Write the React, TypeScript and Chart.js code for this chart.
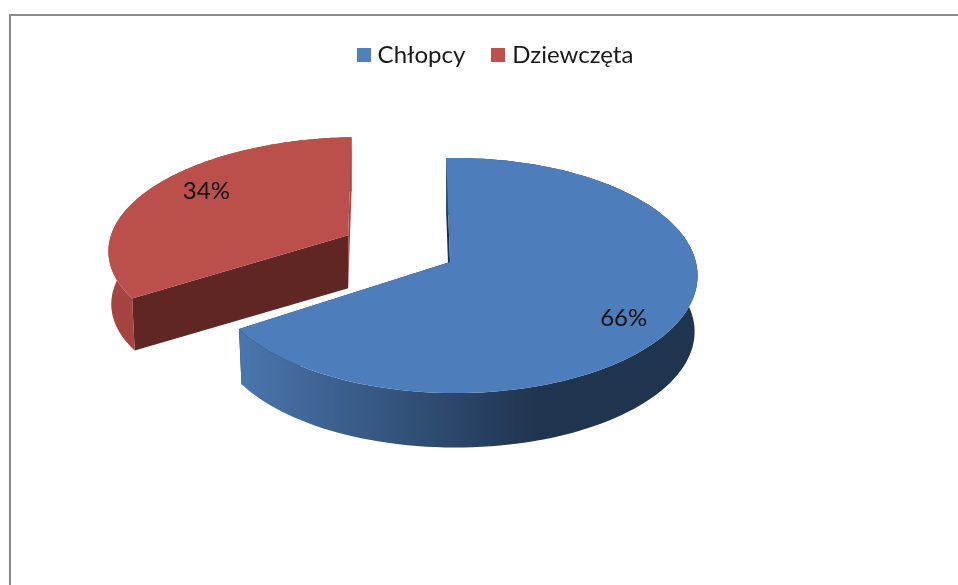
import React, { useEffect, useRef } from "react";
import { Chart, PieController, registerables } from "chart.js";

Chart.register(...registerables);

const categories = ["Chłopcy", "Dziewczęta"];
const shares = [66, 34];
const shareLabels = ["66%", "34%"];
const faceColors = ["#4d7ebb", "#bb4f4b"];
const legendColors = ["#4f81bd", "#c0504d"];
const outerWallStops = [
  ["#4a76ae", "#1f344f"],
  ["#a54440", "#a54440"],
];
const frontWallColors = ["#17324f", "#5f2624"];
const sideWallColors = ["#17324f", "#a54440"];
const sliceOffsets = [0, 124];
const sliceScaleX = [1, 1.05];
const sliceShearX = [0, 0.04];
const sliceShiftX = [0, 4];
const sliceDepth = [56, 53];
const labelAngleShift = [5.9, 6.5];
const labelRadial = [0.81, 0.77];

const FONT = "Lato, Carlito, sans-serif";
const VIEW = { cx: 450, cy: 262, tilt: 116, shrink: 0.012, k: 0.115, m: 0.02 };

function project(nx: number, ny: number, R: number) {
  const s = 1 / (1 - VIEW.k * ny - VIEW.m * nx);
  return [VIEW.cx + nx * R * s, VIEW.cy + VIEW.tilt * ny * s];
}

function swatch(color: string) {
  const c = document.createElement("canvas");
  c.width = 14;
  c.height = 14;
  const g = c.getContext("2d")!;
  g.fillStyle = color;
  g.fillRect(0, 0, 14, 14);
  return c;
}

const pie3d = {
  id: "pie3d",
  beforeDraw(chart: any) {
    const { ctx, width, height } = chart;
    ctx.save();
    ctx.fillStyle = "#fff";
    ctx.fillRect(0, 0, width, height);
    ctx.strokeStyle = "#8a8a8a";
    ctx.lineWidth = 2;
    ctx.beginPath();
    ctx.moveTo(10, height);
    ctx.lineTo(10, 15);
    ctx.lineTo(width, 15);
    ctx.stroke();
    ctx.restore();
  },
  beforeDatasetsDraw(chart: any) {
    const { ctx } = chart;
    const arcs = chart.getDatasetMeta(0).data;
    ctx.save();
    arcs.forEach((el: any, i: number) => {
      const R = el.outerRadius;
      const a0 = el.startAngle;
      const a1 = el.endAngle;
      const mid = (a0 + a1) / 2;
      const off = (el.options.offset || 0) / R;
      const ox = Math.cos(mid) * off;
      const oy = Math.sin(mid) * off;
      const base = project(ox, oy, R);
      const place = (nx: number, ny: number, z: number) => {
        const p = project(ox + nx, oy + ny, R);
        const f = 1 - VIEW.shrink * z;
        const dx = (p[0] - base[0]) * sliceScaleX[i] + (p[1] - base[1]) * sliceShearX[i];
        return [
          base[0] + sliceShiftX[i] + dx * f,
          base[1] + (p[1] - base[1]) * f + sliceDepth[i] * z,
        ];
      };
      const steps = 120;
      const rim = (z: number) => {
        const pts: number[][] = [];
        for (let n = 0; n <= steps; n++) {
          const a = a0 + ((a1 - a0) * n) / steps;
          pts.push(place(Math.cos(a), Math.sin(a), z));
        }
        return pts;
      };
      const top = rim(0);
      const bottom = rim(1);
      const apex0 = place(0, 0, 0);
      const apex1 = place(0, 0, 1);
      const poly = (pts: number[][], fill: any) => {
        ctx.beginPath();
        pts.forEach((p, n) => (n ? ctx.lineTo(p[0], p[1]) : ctx.moveTo(p[0], p[1])));
        ctx.closePath();
        ctx.fillStyle = fill;
        ctx.fill();
      };
      // radial walls: the slice's first edge and its last edge
      poly([apex0, top[0], bottom[0], apex1], frontWallColors[i]);
      poly([apex0, top[steps], bottom[steps], apex1], sideWallColors[i]);
      // outer wall
      const xs = top.concat(bottom).map((p) => p[0]);
      const minX = Math.min(...xs);
      const grad = ctx.createLinearGradient(minX, 0, minX + 300, 0);
      grad.addColorStop(0, outerWallStops[i][0]);
      grad.addColorStop(1, outerWallStops[i][1]);
      poly(top.concat(bottom.slice().reverse()), grad);
      // top face
      poly([apex0, ...top], faceColors[i]);
      // label
      const la = mid + (labelAngleShift[i] * Math.PI) / 180;
      const p = place(Math.cos(la) * labelRadial[i], Math.sin(la) * labelRadial[i], 0);
      ctx.fillStyle = "#111";
      ctx.font = `24px ${FONT}`;
      ctx.textAlign = "center";
      ctx.textBaseline = "middle";
      ctx.fillText(shareLabels[i], p[0], p[1]);
    });
    ctx.restore();
    return false;
  },
};

export default function App() {
  const ref = useRef<HTMLCanvasElement>(null);
  useEffect(() => {
    const chart = new Chart(ref.current!, {
      type: "pie",
      data: {
        labels: categories,
        datasets: [
          {
            data: shares,
            backgroundColor: legendColors,
            borderWidth: 0,
            offset: sliceOffsets,
            radius: 241,
          } as any,
        ],
      },
      options: {
        responsive: false,
        animation: false,
        rotation: -1,
        layout: { padding: { top: 12, left: 37 } },
        plugins: {
          tooltip: { enabled: false },
          legend: {
            position: "top",
            labels: {
              color: "#1a1a1a",
              usePointStyle: true,
              boxWidth: 4,
              boxHeight: 4,
              padding: 31,
              font: { family: FONT, size: 24 },
              generateLabels(c: any) {
                const base = (PieController as any).overrides.plugins.legend.labels.generateLabels(c);
                return base.map((l: any, i: number) => ({ ...l, pointStyle: swatch(legendColors[i]) }));
              },
            },
          },
        },
      },
      plugins: [pie3d],
    } as any);
    return () => chart.destroy();
  }, []);
  return (
    <div style={{ position: "fixed", left: 0, top: 0, width: 958, height: 585, overflow: "hidden", background: "#fff" }}>
      <canvas ref={ref} width={958} height={585} style={{ display: "block" }} />
    </div>
  );
}
